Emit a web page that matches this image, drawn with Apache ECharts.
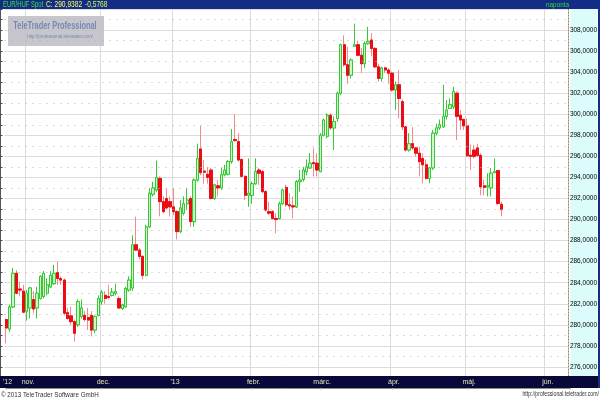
<!DOCTYPE html>
<html><head><meta charset="utf-8">
<script src="https://cdn.jsdelivr.net/npm/echarts@6/dist/echarts.min.js"></script>
<style>html,body{margin:0;padding:0;background:#fff}#c{width:600px;height:400px}</style>
</head><body><div id="c"></div>
<script>
// ---- data (EUR/HUF Spot, daily) ----
const openVals = [280.5,279.6,281.7,284.9,283.4,283.2,281.3,281.6,282.4,281.6,282.5,282.7,283.0,283.6,283.9,284.95,284.4,284.25,281.15,280.85,280.3,280.0,280.8,280.9,280.7,280.9,279.5,280.9,282.2,282.8,282.7,282.8,283.0,282.5,281.55,281.7,283.3,283.5,287.6,287.1,286.5,284.7,289.3,292.4,292.8,293.9,291.7,292.0,291.7,291.2,290.75,288.85,290.6,291.5,292.0,289.8,293.75,296.7,294.6,294.3,294.7,292.0,293.2,293.0,294.25,294.3,295.5,297.6,297.4,295.7,294.1,292.3,292.3,293.4,294.7,294.55,292.65,290.75,290.75,290.1,290.1,291.5,293.05,291.4,291.3,291.2,293.6,293.8,294.55,294.9,295.4,295.35,294.55,298.0,297.9,299.9,298.7,299.6,302.0,306.6,304.7,303.7,306.45,306.6,305.6,304.8,306.7,307.05,306.25,304.5,303.4,304.4,304.2,303.9,302.3,302.8,301.2,298.8,296.6,297.2,296.8,296.3,295.8,295.2,293.9,294.9,298.2,298.7,298.8,299.8,300.55,300.7,302.0,299.9,299.5,298.9,296.1,296.6,296.8,296.1,293.2,293.1,293.0,294.45,294.65,291.45];
const highVals = [280.6,281.9,285.4,285.2,284.1,283.8,283.3,283.6,283.2,283.6,284.7,285.1,284.4,285.1,285.7,286.0,284.6,284.4,281.6,281.7,280.5,282.4,282.4,281.3,281.6,281.3,280.9,282.8,283.3,283.2,283.8,283.5,283.9,282.7,282.0,283.6,284.6,288.5,290.27,287.3,286.6,289.5,293.0,293.6,295.6,294.1,292.2,292.95,292.2,293.0,290.9,291.85,292.2,293.0,292.2,293.9,297.2,298.9,295.65,295.0,294.9,293.4,293.75,294.9,295.2,295.65,298.6,300.0,298.2,295.8,294.2,295.8,293.6,295.8,294.9,294.7,292.8,291.7,290.9,290.6,291.7,292.95,293.3,292.5,292.2,293.75,294.7,295.0,295.7,296.3,296.8,296.3,298.2,299.6,300.1,300.1,299.8,302.15,306.7,307.5,306.4,305.3,308.6,307.0,306.3,306.9,308.3,307.7,306.4,304.8,304.5,304.5,304.35,304.05,303.1,304.2,301.4,298.9,298.2,298.8,296.9,296.9,296.3,295.7,295.0,298.5,299.1,299.5,302.8,301.35,301.5,302.6,302.15,300.4,299.6,299.6,297.1,297.1,297.2,296.3,293.8,294.4,294.9,295.8,294.7,291.7];
const lowVals = [278.25,279.35,281.6,282.9,282.7,281.1,280.4,280.6,281.1,280.6,282.4,282.5,282.8,283.5,283.8,283.8,283.8,280.9,280.5,280.0,278.4,279.8,280.6,280.3,279.5,278.9,279.2,280.8,281.9,282.0,282.4,282.7,282.8,281.5,281.4,281.65,283.15,283.2,287.0,286.2,284.3,284.6,289.2,292.2,292.6,290.3,290.6,291.0,290.3,290.4,288.1,288.7,290.4,290.9,289.3,289.3,293.6,294.2,293.4,293.4,291.9,291.85,292.2,292.8,294.1,294.2,295.3,297.4,295.5,294.0,291.85,291.2,291.5,293.3,293.3,292.5,290.75,290.45,290.0,288.7,290.0,291.4,291.2,290.9,290.1,291.1,292.65,293.6,294.2,294.8,294.1,294.1,294.5,297.9,297.7,298.5,296.6,299.3,301.8,304.5,302.9,303.4,306.4,305.5,303.9,304.4,306.6,305.5,304.4,303.1,303.1,303.9,302.9,302.15,300.4,299.6,298.5,296.45,296.45,296.6,295.98,294.1,293.45,293.8,293.45,294.7,298.0,298.5,298.7,299.5,300.5,300.5,297.55,298.5,298.5,295.95,294.7,295.8,295.98,292.3,292.3,292.2,292.2,294.4,291.4,290.3];
const closeVals = [279.7,281.7,284.9,283.0,283.3,281.2,283.0,283.5,281.5,283.0,284.6,284.9,283.8,284.7,284.9,284.4,284.25,281.1,280.6,280.3,279.2,282.2,281.6,280.5,280.45,279.5,280.8,282.5,283.1,282.5,282.6,283.1,283.15,281.6,281.9,283.45,284.25,287.6,287.1,286.5,284.7,289.3,292.5,293.0,294.0,291.7,290.75,291.1,291.2,290.75,288.85,291.1,291.5,291.85,289.8,293.75,295.8,294.45,294.5,294.0,292.0,293.3,293.0,294.25,294.7,295.5,297.4,297.5,295.65,294.1,292.3,292.5,293.4,294.55,294.4,292.65,290.9,290.6,290.1,290.0,291.5,292.8,291.4,291.3,291.2,293.6,293.75,294.7,295.0,295.35,295.3,294.7,298.0,299.45,299.9,298.7,299.3,302.0,306.6,304.7,303.7,305.15,306.6,305.6,304.8,306.7,306.9,306.25,304.5,303.4,304.4,304.2,303.9,302.3,302.8,301.5,298.8,296.6,297.2,296.8,296.3,295.5,295.2,293.9,294.9,298.2,298.7,299.0,299.8,300.4,300.9,302.15,299.8,299.45,298.9,296.05,296.0,296.0,296.1,293.1,293.05,293.2,294.4,294.55,291.52,290.94];

// ---- axis / labels ----
const firstTradingDay = [2012, 9, 24];   // 24 Oct 2012
const categoryCount = 165;               // weekdays shown on the axis (data ends mid-May)
const monthLabels = ["'13", 'febr.', 'márc.', 'ápr.', 'máj.', 'jún.', 'júl.', 'aug.', 'szept.', 'okt.', 'nov.', 'dec.'];
const startLabel = "'12";
const yMin = 274, yMax = 310, yStep = 2;
const minorLevels = [277, 279, 281, 283, 285, 287, 289, 291, 293, 295, 297, 299, 301, 303, 305, 307, 309];
const lastPrice = 290.9382;
const headerName = 'EUR/HUF Spot';
const headerClose = 'C: 290,9382';
const headerChange = '-0,5768';
const headerPeriod = 'naponta';

// weekday calendar
const categories = [];
let d = new Date(Date.UTC(firstTradingDay[0], firstTradingDay[1], firstTradingDay[2]));
while (categories.length < categoryCount) {
  const wd = d.getUTCDay();
  if (wd !== 0 && wd !== 6) categories.push(d.toISOString().slice(0, 10));
  d = new Date(d.getTime() + 86400000);
}
const isMonthStart = categories.map((c, i) => i === 0 || c.slice(5, 7) !== categories[i - 1].slice(5, 7));
const labelFor = (c, i) => i === 0 ? startLabel : monthLabels[(+c.slice(5, 7)) - 1];

const wickData = openVals.map((o, i) => [o, closeVals[i], lowVals[i], highVals[i]]);
const bodyData = openVals.map((o, i) => [o, closeVals[i], Math.min(o, closeVals[i]), Math.max(o, closeVals[i])]);

const FONT = '"Liberation Sans", Arial, sans-serif';
const UP_FILL = '#d0f5cb', UP_LINE = '#36c936', DN_FILL = '#ec0c14', DN_WICK = '#f28a8a';
const fmt = v => v.toFixed(4).replace('.', ',');
const txt = (x, y, text, fill, size, sx, extra) => Object.assign({
  type: 'text', z: 6, x: x, y: y, scaleX: sx,
  style: Object.assign({text: text, fill: fill, font: size + 'px ' + FONT, textVerticalAlign: 'middle'}, extra || {})
});

const chart = echarts.init(document.getElementById('c'), null, {renderer: 'canvas'});
chart.setOption({
  animation: false,
  backgroundColor: '#ffffff',
  grid: [
    {left: 4.5, right: 30, top: 8.94, bottom: 12},
    {left: 4.5, right: 30, top: 376, height: 12}
  ],
  xAxis: [
    {type: 'category', gridIndex: 0, data: categories, boundaryGap: true, z: 0,
     axisLine: {show: false}, axisTick: {show: false}, axisLabel: {show: false},
     splitLine: {show: true, interval: i => i > 0 && isMonthStart[i], lineStyle: {color: '#dadada', width: 1}}},
    {type: 'category', gridIndex: 1, data: categories, boundaryGap: true, position: 'top', z: 10,
     axisLine: {show: true, lineStyle: {color: '#8f8f7a', width: 1}},
     axisTick: {show: true, inside: true, length: 2, interval: i => isMonthStart[i], lineStyle: {color: '#d8cf70'}},
     axisLabel: {show: true, inside: true, margin: 3, interval: i => isMonthStart[i],
       formatter: (v, i) => labelFor(v, i), color: '#ece4b4', fontSize: 7, fontFamily: FONT},
     splitLine: {show: false}}
  ],
  yAxis: [
    {type: 'value', gridIndex: 0, position: 'right', min: yMin, max: yMax, interval: yStep, z: 0,
     axisLine: {show: true, lineStyle: {color: '#8a8a50', type: [1, 2], width: 1}},
     axisTick: {show: false}, axisLabel: {show: false},
     splitLine: {show: true, lineStyle: {color: '#e0dae0', width: 1}}},
    {type: 'value', gridIndex: 0, position: 'right', min: yMin, max: yMax, interval: yStep, z: 10,
     axisLine: {show: false}, axisTick: {show: false}, splitLine: {show: false},
     axisLabel: {show: true, margin: 2, color: '#000', fontSize: 6.5, fontFamily: FONT,
       formatter: v => (v <= yMin || v >= yMax) ? '' : fmt(v)}},
    {type: 'value', gridIndex: 0, position: 'left', offset: 4, min: yMin, max: yMax, interval: 1, z: 0,
     axisLine: {show: true, lineStyle: {color: '#555', width: 1}},
     axisTick: {show: true, inside: true, length: 2, lineStyle: {color: '#444'}},
     axisLabel: {show: false}, splitLine: {show: false}},
    {type: 'value', gridIndex: 1, show: false}
  ],
  series: [
    {type: 'candlestick', name: 'wick', xAxisIndex: 0, yAxisIndex: 0, z: 2, barWidth: 2.8,
     data: wickData,
     itemStyle: {color: UP_FILL, color0: DN_FILL, borderColor: UP_LINE, borderColor0: DN_WICK, borderWidth: 1},
     markLine: {silent: true, symbol: ['none', 'none'], animation: false,
       label: {show: false},
       lineStyle: {color: '#b4b4b4', type: [1, 6], width: 1},
       emphasis: {disabled: true},
       data: minorLevels.map(v => ({yAxis: v}))}},
    {type: 'candlestick', name: 'body', xAxisIndex: 0, yAxisIndex: 0, z: 3, barWidth: 2.8,
     data: bodyData,
     itemStyle: {color: UP_FILL, color0: DN_FILL, borderColor: UP_LINE, borderColor0: DN_FILL, borderWidth: 1},
     markLine: {silent: true, symbol: ['none', 'none'], animation: false,
       lineStyle: {opacity: 0},
       label: {show: true, position: 'end', distance: 1, formatter: fmt(lastPrice),
         backgroundColor: '#ffff00', color: '#000', fontSize: 6.5, fontFamily: FONT, padding: [1, 1, 0, 1]},
       data: [{yAxis: lastPrice}]}}
  ],
  graphic: {elements: [
    // top bar
    {type: 'rect', z: 1, shape: {x: 0, y: 0, width: 600, height: 9}, style: {fill: '#132c86'}},
    // bottom bar
    {type: 'rect', z: 1, shape: {x: 0, y: 376, width: 600, height: 12}, style: {fill: '#08083a'}},
    // right value panel
    {type: 'rect', z: 1, shape: {x: 570.5, y: 9, width: 27, height: 367}, style: {fill: '#dcfcfc'}},
    {type: 'rect', z: 1, shape: {x: 598, y: 0, width: 2, height: 388}, style: {fill: '#132c86'}},
    // footer
    {type: 'rect', z: 1, shape: {x: 0, y: 388, width: 600, height: 12}, style: {fill: '#ffffff'}},
    txt(1, 394.5, '© 2013 TeleTrader Software GmbH', '#333', 8, 0.78),
    txt(599, 394.5, 'http://professional.teletrader.com/', '#333', 7, 0.74, {textAlign: 'right'}),
    // header
    txt(3, 5, headerName, '#3ee03e', 8.5, 0.7),
    txt(46, 5, headerClose, '#ffff50', 8.5, 0.78),
    txt(85, 5, headerChange, '#d8ff50', 8.5, 0.78),
    txt(546, 5, headerPeriod, '#2edc2e', 8, 0.8),
    // watermark
    {type: 'rect', z: 4, shape: {x: 8, y: 16, width: 96, height: 30}, style: {fill: 'rgba(192,192,198,0.9)'}},
    txt(55, 26, 'TeleTrader Professional', '#7888b4', 10, 0.74, {textAlign: 'center', font: 'bold 10px ' + FONT}),
    txt(60, 36, 'http://professional.teletrader.com/', '#7888b4', 6, 0.74, {textAlign: 'center'})
  ]}
});
</script>
</body></html>
